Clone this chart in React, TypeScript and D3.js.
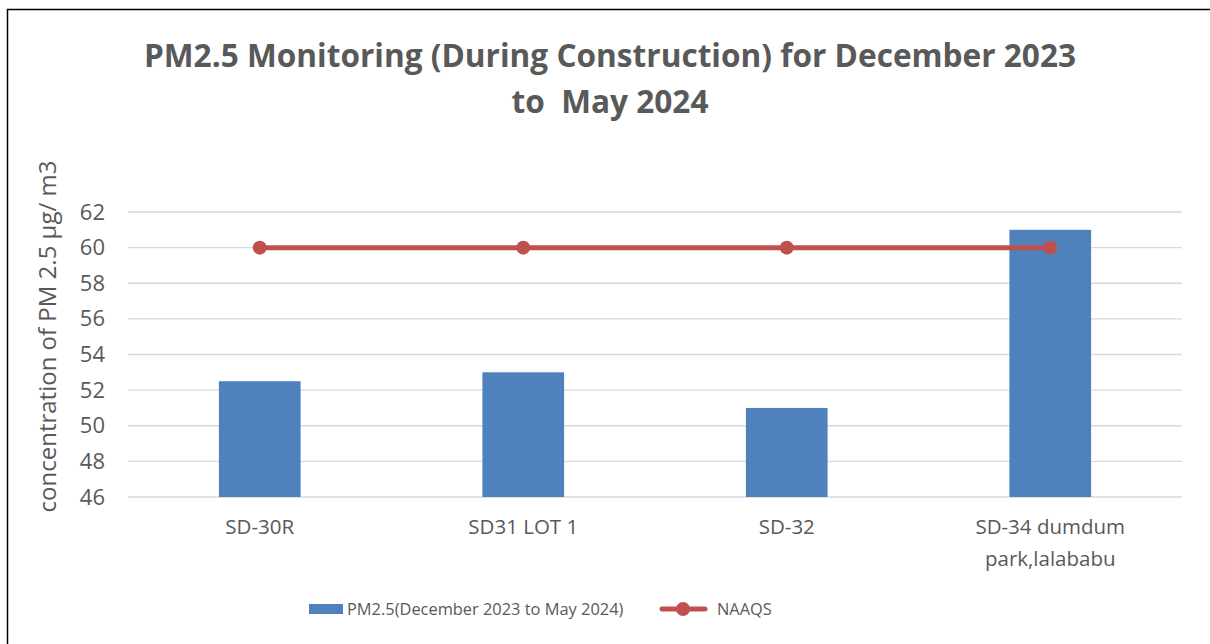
import React, { useRef, useEffect } from 'react';
import * as d3 from 'd3';

const categories = ['SD-30R', 'SD31 LOT 1', 'SD-32', 'SD-34 dumdum park,lalababu'];
const pmValues = [52.5, 53, 51, 61];
const naaqsValues = [60, 60, 60, 60];
const yTicks = [46, 48, 50, 52, 54, 56, 58, 60, 62];

const App = () => {
  const svgRef = useRef<SVGSVGElement>(null);
  const width = 1210;
  const height = 644;
  const margin = { top: 212, bottom: 147, left: 128, right: 28 };
  const font = '"Open Sans", sans-serif';
  const grey = '#595959';

  useEffect(() => {
    const svg = d3.select(svgRef.current);
    svg.selectAll('*').remove();

    const x = d3.scaleBand()
      .domain(categories)
      .range([margin.left, width - margin.right])
      .paddingInner(0.69)
      .paddingOuter(0.345);

    const y = d3.scaleLinear()
      .domain([46, 62])
      .range([height - margin.bottom, margin.top]);

    // chart border
    svg.append('rect')
      .attr('x', 7.5).attr('y', 9.5)
      .attr('width', width + 10).attr('height', height + 10)
      .attr('fill', 'white').attr('stroke', 'black').attr('stroke-width', 1.5);

    // gridlines
    svg.append('g')
      .selectAll('line')
      .data(yTicks)
      .join('line')
      .attr('x1', margin.left).attr('x2', width - margin.right)
      .attr('y1', d => y(d)).attr('y2', d => y(d))
      .attr('stroke', '#d9d9d9').attr('stroke-width', 1.3);

    const yAxis = d3.axisLeft(y).tickValues(yTicks).tickSize(0).tickPadding(0);
    const yg = svg.append('g')
      .attr('transform', `translate(${margin.left - 23},0)`)
      .call(yAxis);
    yg.select('.domain').remove();
    yg.selectAll('text')
      .attr('font-family', font).attr('font-size', 22).attr('fill', grey);

    // bars
    svg.append('g')
      .selectAll('rect')
      .data(pmValues)
      .join('rect')
      .attr('x', (d, i) => x(categories[i])!)
      .attr('y', d => y(d))
      .attr('width', x.bandwidth())
      .attr('height', d => y(46) - y(d))
      .attr('fill', '#4F81BD');

    // NAAQS line
    const line = d3.line<number>()
      .x((d, i) => x(categories[i])! + x.bandwidth() / 2)
      .y(d => y(d));
    svg.append('path')
      .datum(naaqsValues)
      .attr('d', line)
      .attr('fill', 'none')
      .attr('stroke', '#C0504D')
      .attr('stroke-width', 5);
    svg.append('g')
      .selectAll('circle')
      .data(naaqsValues)
      .join('circle')
      .attr('cx', (d, i) => x(categories[i])! + x.bandwidth() / 2)
      .attr('cy', d => y(d))
      .attr('r', 7)
      .attr('fill', '#C0504D');

    // category labels
    const cat = svg.append('g');
    categories.forEach(c => {
      const cx = x(c)! + x.bandwidth() / 2;
      const lines = c === 'SD-34 dumdum park,lalababu' ? ['SD-34 dumdum', 'park,lalababu'] : [c];
      lines.forEach((l, k) => {
        cat.append('text')
          .attr('x', cx).attr('y', 534 + k * 32)
          .attr('text-anchor', 'middle')
          .attr('font-family', font).attr('font-size', 20.5).attr('fill', grey)
          .text(l);
      });
    });

    // y title
    svg.append('text')
      .attr('transform', `translate(56,${(margin.top + height - margin.bottom) / 2 - 18}) rotate(-90)`)
      .attr('text-anchor', 'middle')
      .attr('font-family', font).attr('font-size', 24).attr('fill', grey)
      .text('concentration of PM 2.5 µg/ m3');

    // title
    const title = ['PM2.5 Monitoring (During Construction) for December 2023', 'to  May 2024'];
    title.forEach((t, k) => {
      svg.append('text')
        .attr('x', 610).attr('y', 67 + k * 46)
        .attr('text-anchor', 'middle')
        .attr('font-family', font).attr('font-size', 31.6).attr('font-weight', 'bold')
        .attr('fill', grey)
        .style('white-space', 'pre')
        .text(t);
    });

    // legend
    const lg = svg.append('g');
    lg.append('rect')
      .attr('x', 309).attr('y', 604).attr('width', 34).attr('height', 10)
      .attr('fill', '#4F81BD');
    lg.append('text')
      .attr('x', 347).attr('y', 615)
      .attr('font-family', font).attr('font-size', 16.4).attr('fill', grey)
      .text('PM2.5(December 2023 to May 2024)');
    lg.append('line')
      .attr('x1', 662).attr('x2', 705).attr('y1', 609).attr('y2', 609)
      .attr('stroke', '#C0504D').attr('stroke-width', 5).attr('stroke-linecap', 'round');
    lg.append('circle')
      .attr('cx', 683).attr('cy', 609).attr('r', 7).attr('fill', '#C0504D');
    lg.append('text')
      .attr('x', 717).attr('y', 615)
      .attr('font-family', font).attr('font-size', 16.4).attr('fill', grey)
      .text('NAAQS');
  }, []);

  return (
    <svg ref={svgRef} width={width} height={height}
      style={{ position: 'absolute', left: 0, top: 0, display: 'block' }} />
  );
};

export default App;
